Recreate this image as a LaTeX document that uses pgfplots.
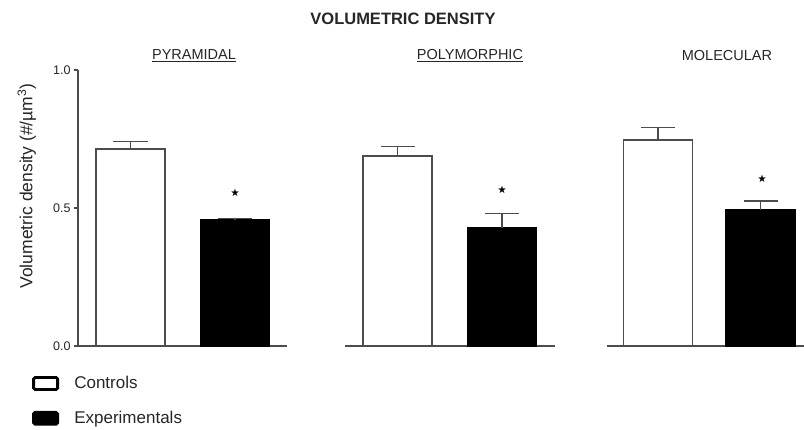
\documentclass[border=0pt]{standalone}
\usepackage{pgfplots}
\pgfplotsset{compat=1.18}
\usepackage{amssymb}
\usepackage{fontspec}
\setmainfont{Liberation Sans}
\definecolor{axgray}{gray}{0.3}
\definecolor{txt}{gray}{0.15}
\pgfplotsset{
  panel/.style={
    scale only axis, height=276pt, ymin=0, ymax=1,
    xtick=\empty, clip=false,
    axis line style={-, axgray, line width=1.3pt},
    title style={font=\fontsize{14.5}{14.5}\selectfont, text=txt, anchor=center},
  },
  errs/.style={
    error bars/y dir=plus, error bars/y explicit,
    error bars/error bar style={axgray, line width=1.3pt},
    error bars/error mark options={rotate=90, mark size=17pt, axgray, line width=1.3pt}},
  ctrl/.style={ybar, bar width=69, bar shift=0pt, draw=axgray, fill=white, line width=1.4pt, errs},
  expt/.style={ybar, bar width=69, bar shift=0pt, draw=black, fill=black, line width=1.4pt, errs},
  starplot/.style={only marks, color=black, mark=text, text mark={\fontsize{9}{9}\selectfont$\bigstar$}},
}
\begin{document}
\begin{tikzpicture}
\useasboundingbox (0,0) rectangle (804pt,430pt);
\node[font=\bfseries\fontsize{16.5}{16.5}\selectfont, text=txt] at (403pt,411pt) {VOLUMETRIC DENSITY};
% Panel 1
\begin{axis}[panel, at={(78pt,84pt)}, anchor=south west, width=209pt, xmin=0, xmax=209,
  axis x line*=bottom, axis y line*=left,
  ytick={0,0.5,1}, tick align=outside, major tick length=4pt,
  tick style={axgray, line width=1.3pt},
  yticklabel style={font=\fontsize{12.5}{12.5}\selectfont, text=txt},
  /pgf/number format/.cd, fixed, fixed zerofill, precision=1, assume math mode=true,
  /pgfplots/.cd,
  ylabel={Volumetric density (\#/µm\textsuperscript{3})},
  every axis y label/.style={at={(axis description cs:-0.245,0.58)}, rotate=90, anchor=center, font=\fontsize{17.5}{17.5}\selectfont, text=txt},
  title={\underline{PYRAMIDAL}},
  title style={at={(axis description cs:0.555,1.029)}},
  legend style={at={(axis description cs:-0.22,-0.103)}, anchor=north west, draw=none, fill=none,
    font=\fontsize{17}{17}\selectfont, text=txt, row sep=17pt, inner sep=0pt,
    nodes={inner sep=2pt}},
  legend cell align=left,
]
\addplot[ctrl, legend image code/.code={\draw[line width=2.8pt, rounded corners=1.5pt, draw=black, fill=white] (0pt,-6pt) rectangle (24pt,6pt); \path (38pt,0pt);}] coordinates {(52.5,0.714) +- (0,0.026)};
\addlegendentry{Controls}
\addplot[expt, legend image code/.code={\draw[line width=2.8pt, rounded corners=1.5pt, draw=black, fill=black] (0pt,-6pt) rectangle (24pt,6pt); \path (38pt,0pt);}] coordinates {(157,0.457) +- (0,0.004)};
\addlegendentry{Experimentals}
\addplot[starplot, forget plot] coordinates {(157,0.554)};
\end{axis}
% Panel 2
\begin{axis}[panel, at={(345pt,84pt)}, anchor=south west, width=210pt, xmin=0, xmax=210,
  axis x line*=bottom, axis y line=none,
  title={\underline{POLYMORPHIC}},
  title style={at={(axis description cs:0.595,1.029)}},
]
\addplot[ctrl] coordinates {(52.5,0.688) +- (0,0.034)};
\addplot[expt] coordinates {(157,0.429) +- (0,0.051)};
\addplot[starplot] coordinates {(157,0.565)};
\end{axis}
% Panel 3
\begin{axis}[panel, at={(607pt,84pt)}, anchor=south west, width=197pt, xmin=0, xmax=197,
  axis x line*=bottom, axis y line=none,
  title={MOLECULAR},
  title style={at={(axis description cs:0.609,1.029)}},
]
\addplot[ctrl] coordinates {(51,0.746) +- (0,0.045)};
\addplot[expt] coordinates {(153.5,0.493) +- (0,0.032)};
\addplot[starplot] coordinates {(155,0.605)};
\end{axis}
\end{tikzpicture}
\end{document}
